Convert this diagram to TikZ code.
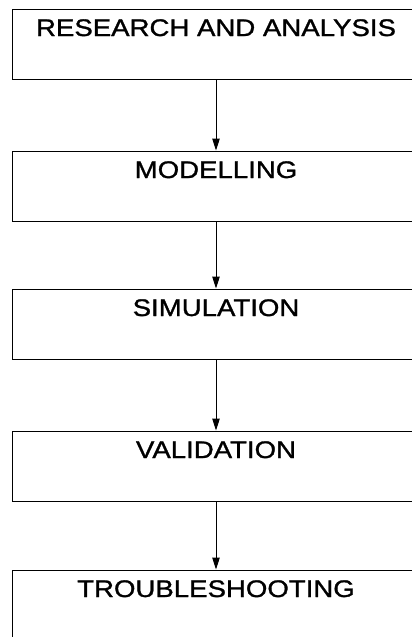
\documentclass[tikz,border=0pt]{standalone}
\usepackage{fontspec}
\setmainfont{Liberation Sans}[FakeStretch=1.15, FakeBold=1.2]
\usetikzlibrary{arrows.meta}

\begin{document}
\begin{tikzpicture}[
            x = 1pt, y = 1pt,
            every node/.style={font=\fontsize{24}{28}\selectfont},
            box/.style={draw, line width = 1pt, rectangle, inner sep = 0pt,
                minimum width = 408pt, text height = 27pt, text depth = 43pt},
            line/.style={line width = 1pt, -{Triangle[length = 12pt, width = 7.5pt]}},
            ]
        \useasboundingbox (0, 0) rectangle (412, -637);

        \node[box] (research) at (216, -44) {RESEARCH AND ANALYSIS};
        \node[box] (modelling) at (216, -186) {MODELLING};
        \node[box] (simulation) at (216, -324) {SIMULATION};
        \node[box] (validation) at (216, -466) {VALIDATION};
        \node[box] (trouble) at (216, -605) {TROUBLESHOOTING};

        \draw[line] (research) -- (modelling);
        \draw[line] (modelling) -- (simulation);
        \draw[line] (simulation) -- (validation);
        \draw[line] (validation) -- (trouble);
    \end{tikzpicture}
\end{document}
